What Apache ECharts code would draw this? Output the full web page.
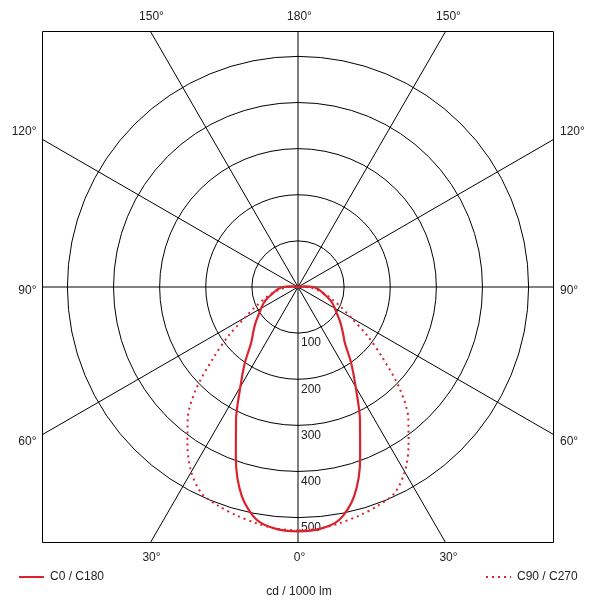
<!DOCTYPE html>
<html><head><meta charset="utf-8">
<script src="https://cdn.jsdelivr.net/npm/echarts@6/dist/echarts.min.js"></script>
<style>html,body{margin:0;padding:0;background:#fff}#c{width:603px;height:601px}</style>
</head><body><div id="c"></div>
<script>
// Gamma angles (deg from nadir) and luminous intensity (cd / 1000 lm)
const gamma      = [0,   5,   10,  15,  20,  25,  30,  35,  40,  45,  50,  55,  60, 65, 70, 75, 80, 85, 90, 95, 100];
const cdC0C180   = [530, 527, 513, 470, 394, 318, 250, 201, 158, 137, 120, 104, 92, 82, 70, 58, 50, 42, 33, 15, 0];
const cdC90C270  = [528, 526, 520, 513, 505, 494, 463, 418, 372, 312, 240, 183, 133,103, 79, 62, 46, 32, 22, 8,  0];
const radiusTicks = [100, 200, 300, 400, 500];
const topLabels    = ['150°', '180°', '150°'];
const bottomLabels = ['30°', '0°', '30°'];
const sideLabels   = ['120°', '90°', '60°'];
const seriesNames  = ['C0 / C180', 'C90 / C270'];
const unitLabel    = 'cd / 1000 lm';

const RED = '#d9232d';
const FONT = '"Liberation Sans", Arial, sans-serif';
const TXT = '#222';

function halfPlane(vals) {
  const out = [];
  for (let i = 0; i < gamma.length; i++) out.push([vals[i], gamma[i]]);
  for (let i = gamma.length - 2; i >= 0; i--) out.push([vals[i], 360 - gamma[i]]);
  return out;
}

const cx = 298, cy = 287, half = 255.5;
const pxPerCd = 230.6 / 500;
const rStep = radiusTicks[0];
const rMax = radiusTicks[radiusTicks.length - 1] + rStep; // extra (hidden) ring
const circleColors = [0].concat(radiusTicks).map(v => '#000').concat(['rgba(0,0,0,0)']);

const graphics = [];
// masks outside the square frame
[[0,0,603,cy-half],[0,cy+half,603,601-(cy+half)],[0,0,cx-half,601],[cx+half,0,603-(cx+half),601]].forEach(r=>{
  graphics.push({type:'rect', z:100, silent:true, shape:{x:r[0],y:r[1],width:r[2],height:r[3]}, style:{fill:'#fff'}});
});
graphics.push({type:'rect', z:101, silent:true, shape:{x:cx-half,y:cy-half,width:2*half,height:2*half}, style:{fill:null, stroke:'#000', lineWidth:1}});
const colX = [151.5, 299.5, 448.5];
topLabels.forEach((t,i)=>graphics.push({type:'text', z:102, x:colX[i], y:16.5, style:{text:t, font:'12px '+FONT, fill:TXT, textAlign:'center', textVerticalAlign:'middle'}}));
bottomLabels.forEach((t,i)=>graphics.push({type:'text', z:102, x:colX[i], y:558, style:{text:t, font:'12px '+FONT, fill:TXT, textAlign:'center', textVerticalAlign:'middle'}}));
const rowY = [131.5, 290.5, 441.5];
sideLabels.forEach((t,i)=>{
  graphics.push({type:'text', z:102, x:36.5, y:rowY[i], style:{text:t, font:'12px '+FONT, fill:TXT, textAlign:'right', textVerticalAlign:'middle'}});
  graphics.push({type:'text', z:102, x:560, y:rowY[i], style:{text:t, font:'12px '+FONT, fill:TXT, textAlign:'left', textVerticalAlign:'middle'}});
});

const chart = echarts.init(document.getElementById('c'), null, {renderer:'canvas'});
chart.setOption({
  animation:false,
  backgroundColor:'#fff',
  title:{text:unitLabel, left:299, top:586, textAlign:'center', z:200, padding:0,
    textStyle:{fontSize:12, fontWeight:'normal', color:TXT, fontFamily:FONT}},
  legend:[
    {data:[seriesNames[0]], left:18, top:571, z:200, padding:0, itemWidth:25, itemHeight:14, itemGap:5,
      itemStyle:{opacity:0}, textStyle:{fontSize:12, color:TXT, fontFamily:FONT, padding:[0,0,0,1]}},
    {data:[seriesNames[1]], left:485, top:571, z:200, padding:0, itemWidth:25, itemHeight:14, itemGap:5,
      itemStyle:{opacity:0}, textStyle:{fontSize:12, color:TXT, fontFamily:FONT, padding:[0,0,0,1]}}
  ],
  polar:[
    {center:[cx, cy], radius:rMax * pxPerCd},
    {center:[cx, cy], radius:370}
  ],
  angleAxis:[
    {polarIndex:0, type:'value', min:0, max:360, startAngle:-90, clockwise:true,
      axisLine:{show:false}, axisTick:{show:false}, axisLabel:{show:false}, splitLine:{show:false}},
    {polarIndex:1, type:'value', min:0, max:360, interval:30, startAngle:-90,
      axisLine:{show:false}, axisTick:{show:false}, axisLabel:{show:false},
      splitLine:{show:true, lineStyle:{color:'#000', width:1}}}
  ],
  radiusAxis:[
    {polarIndex:0, type:'value', min:0, max:rMax, interval:rStep,
      axisLine:{show:false}, axisTick:{show:false},
      axisLabel:{show:true, showMinLabel:false, showMaxLabel:false, fontSize:12, color:TXT, fontFamily:FONT, margin:3, align:'left', verticalAlign:'top', padding:[4,0,0,0]},
      splitLine:{show:true, lineStyle:{color:circleColors, width:1}}},
    {polarIndex:1, type:'value', min:0, max:100, show:false}
  ],
  series:[
    {name:seriesNames[0], type:'line', coordinateSystem:'polar', polarIndex:0, data:halfPlane(cdC0C180),
      clip:false, smooth:0.3, showSymbol:false, symbol:'none', z:5, color:RED, lineStyle:{color:RED, width:2.2}},
    {name:seriesNames[1], type:'line', coordinateSystem:'polar', polarIndex:0, data:halfPlane(cdC90C270),
      clip:false, smooth:0.3, showSymbol:false, symbol:'none', z:4, color:RED, lineStyle:{color:RED, width:2, type:[2,4]}}
  ],
  graphic:graphics
});
</script></body></html>
